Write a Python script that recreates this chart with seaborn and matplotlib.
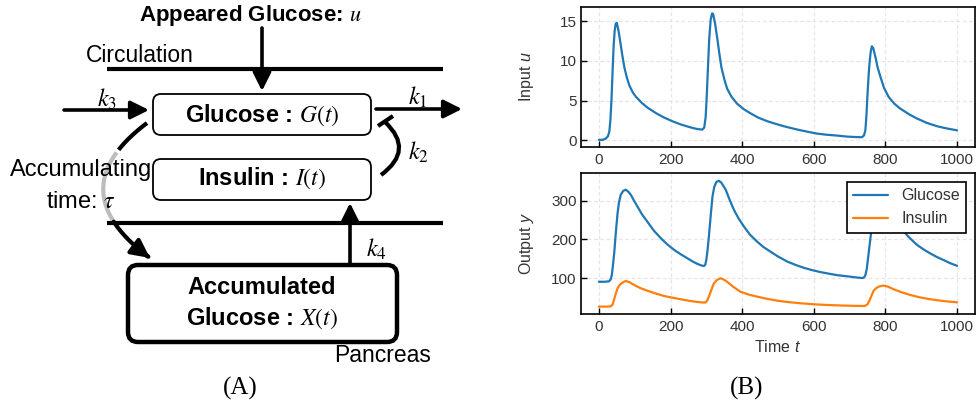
import numpy as np
import matplotlib
matplotlib.use('Agg')
import matplotlib.pyplot as plt
import seaborn as sns
from matplotlib.patches import FancyBboxPatch, FancyArrowPatch, PathPatch
from matplotlib.path import Path

# ---------------- data ----------------
t_u = [0, 10, 19, 25, 29, 32, 35, 38, 41, 44, 47, 50, 54, 59, 65, 71, 78, 85, 95, 103,
       120, 136, 160, 182, 205, 228, 250, 266, 280, 289, 294, 298, 301, 304.5, 308, 312,
       316, 319, 324, 330, 336, 342, 350, 358, 370, 386, 405, 423, 445, 470, 495, 516,
       540, 563, 585, 609, 635, 665, 693, 720, 734, 740, 744, 747, 750, 753, 756, 759,
       762, 766, 772, 778, 786, 796, 809, 825, 841, 865, 888, 915, 944, 970, 1000]
u_vals = [0.05, 0.05, 0.2, 0.5, 1.05, 2.5, 5.0, 8.5, 11.8, 13.8, 14.7, 14.8, 14.0, 12.6,
          10.8, 9.2, 7.9, 6.9, 6.0, 5.5, 4.7, 4.1, 3.4, 2.86, 2.4, 2.0, 1.7, 1.5, 1.38,
          1.35, 1.6, 2.9, 5.5, 9.2, 12.8, 15.2, 16.0, 15.9, 14.8, 13.0, 11.0, 9.2, 7.7,
          6.5, 5.5, 4.6, 3.9, 3.4, 2.85, 2.4, 2.05, 1.77, 1.5, 1.26, 1.05, 0.84, 0.7,
          0.59, 0.46, 0.4, 0.38, 0.6, 1.26, 3.2, 5.9, 8.2, 10.0, 11.2, 11.85, 11.6, 10.5,
          9.2, 8.0, 6.6, 5.46, 4.6, 4.0, 3.3, 2.74, 2.2, 1.77, 1.5, 1.25]

t_g = [0, 15, 28, 33, 36, 40, 43, 47, 52, 56, 61, 68, 75, 82, 89, 98, 108, 120, 135, 153,
       173, 190, 210, 228, 247, 262, 275, 286, 293, 297, 300, 303, 307, 312, 317, 322,
       328, 335, 342, 354, 365, 377, 390, 405, 422, 442, 460, 479, 500, 526, 550, 572,
       595, 618, 641, 665, 693, 715, 735, 740, 744, 748, 753, 757, 760, 764, 770, 778,
       787, 796, 808, 820, 835, 848, 860, 874, 888, 905, 925, 943, 962, 980, 1000]
g_vals = [91, 91, 92, 97, 108, 140, 168, 215, 267, 295, 315, 325, 328, 323, 315, 300, 284,
          265, 246, 223, 203, 188, 173, 162, 151.5, 143, 137, 133, 131.5, 135, 148, 170,
          207, 260, 310, 335, 348, 351, 346, 328, 302, 276, 254, 233, 212, 194, 180,
          168.5, 156, 143, 134, 127, 121, 116, 112, 108, 105, 102.5, 100.5, 102, 108, 125,
          164, 195, 218, 245, 275, 297, 306, 303, 290, 272, 250, 230, 211, 198, 186, 175,
          164, 155, 147, 139, 132]

t_i = [0, 20, 33, 38, 42, 47, 52, 58, 66, 75, 85, 98, 115, 135, 158, 182, 205, 228, 252,
       275, 292, 298, 303, 307, 313, 321, 330, 340, 348, 358, 375, 395, 418, 442, 470,
       498, 530, 563, 600, 637, 680, 720, 742, 750, 755, 761, 767, 774, 781, 790, 797,
       808, 823, 845, 869, 895, 925, 960, 1000]
i_vals = [27, 27, 27.5, 32, 44, 60, 74, 83, 89, 93, 90, 83, 75, 68, 61, 54.4, 50, 46, 42,
          39, 37.5, 37.7, 44, 52.6, 68, 87, 96, 100, 97, 91, 78, 65.5, 58, 52.6, 47, 42.3,
          38.5, 35.6, 33, 31.2, 29.8, 28.8, 28.6, 33, 42, 55, 68, 74.5, 78.3, 80.5, 81, 78,
          71.6, 64, 57, 51, 46, 41.5, 38]

x_ticks = [0, 200, 400, 600, 800, 1000]
u_ticks = [0, 5, 10, 15]
y_ticks = [100, 200, 300]
series_labels = ['Glucose', 'Insulin']

# ---------------- style ----------------
sns.set_theme(style='ticks')
plt.rcParams['font.family'] = ['Liberation Sans', 'DejaVu Sans']
plt.rcParams['text.color'] = 'black'
plt.rcParams['mathtext.fontset'] = 'custom'
plt.rcParams['mathtext.rm'] = 'Liberation Sans'
plt.rcParams['mathtext.it'] = 'Liberation Sans:italic'
plt.rcParams['mathtext.bf'] = 'Liberation Sans:bold'

BLUE = '#1f77b4'
ORANGE = '#ff7f0e'
TXT = '#333333'

W, H = 977, 408
fig = plt.figure(figsize=(W / 100, H / 100), dpi=100)

# ---------------- diagram (A) ----------------
d = fig.add_axes([0, 0, 1, 1])
d.set_xlim(0, W)
d.set_ylim(H, 0)
d.set_axis_off()

def box(x0, y0, x1, y1, lw, r):
    p = FancyBboxPatch((x0, y0), x1 - x0, y1 - y0,
                       boxstyle=f'round,pad=0,rounding_size={r}',
                       fc='white', ec='black', lw=lw, zorder=3)
    d.add_patch(p)

def arrow(p0, p1, lw=2.6):
    a = FancyArrowPatch(p0, p1, arrowstyle='-|>,head_length=11,head_width=5.5',
                        mutation_scale=1, lw=lw, color='black',
                        shrinkA=0, shrinkB=0, zorder=4)
    d.add_patch(a)

# circulation lines
d.plot([107, 443], [69, 69], color='black', lw=3, solid_capstyle='butt')
d.plot([107, 443], [223, 223], color='black', lw=3, solid_capstyle='butt')

box(153, 94, 371, 135, 1.3, 8)
box(153, 159, 371, 200, 1.3, 8)
box(128, 265, 397, 342, 3.2, 10)

arrow((262, 28), (262, 91))
arrow((64, 110), (149, 110))
arrow((376, 109), (462, 109))
arrow((350, 265), (350, 203))

# k2 inhibition arc
k2 = Path([(381, 175), (415, 150), (385, 122)], [Path.MOVETO, Path.CURVE3, Path.CURVE3])
d.add_patch(PathPatch(k2, fill=False, lw=3, ec='black', capstyle='butt'))
d.plot([378, 393], [126, 116], color='black', lw=3, solid_capstyle='butt')

# accumulating time arc
P0 = np.array([147, 123.0]); C = np.array([58, 190.0]); P2 = np.array([150, 258.0])
def bez(s0, s1, n=30):
    s = np.linspace(s0, s1, n)[:, None]
    return (1 - s) ** 2 * P0 + 2 * (1 - s) * s * C + s ** 2 * P2
seg1 = bez(0, 0.2)
seg2 = bez(0.22, 0.72)
seg3 = bez(0.73, 1.0)
d.plot(seg1[:, 0], seg1[:, 1], color='black', lw=3, solid_capstyle='butt')
d.plot(seg2[:, 0], seg2[:, 1], color='#bdbdbd', lw=3, solid_capstyle='butt')
d.add_patch(FancyArrowPatch(path=Path(seg3), arrowstyle='-|>,head_length=11,head_width=5.5',
                            mutation_scale=1, lw=3, color='black'))

# texts
d.text(250, 21, r'Appeared Glucose: $u$', ha='center', va='baseline', fontsize=16,
       fontweight='bold', math_fontfamily='stix')
d.text(140, 55, 'Circulation', ha='center', va='center', fontsize=16.5)
d.text(262, 115, r'Glucose : $G(t)$', ha='center', va='center', fontsize=17,
       fontweight='bold', math_fontfamily='stix', zorder=5)
d.text(262, 178, r'Insulin : $I(t)$', ha='center', va='center', fontsize=17,
       fontweight='bold', math_fontfamily='stix', zorder=5)
d.text(262, 287, 'Accumulated', ha='center', va='center', fontsize=17,
       fontweight='bold', zorder=5)
d.text(262, 318, r'Glucose : $X(t)$', ha='center', va='center', fontsize=17,
       fontweight='bold', math_fontfamily='stix', zorder=5)
for lab, (x, y) in {r'$k_3$': (107, 99), r'$k_1$': (418, 97),
                    r'$k_2$': (418, 152), r'$k_4$': (376, 249)}.items():
    d.text(x, y, lab, ha='center', va='center', fontsize=17.5, math_fontfamily='stix')
d.text(81, 170, 'Accumulating', ha='center', va='center', fontsize=17)
d.text(81, 202, r'time: $\tau$', ha='center', va='center', fontsize=17,
       math_fontfamily='stix')
d.text(383, 355, 'Pancreas', ha='center', va='center', fontsize=16.5)
d.text(240, 388, '(A)', ha='center', va='center', fontsize=18,
       family=['Liberation Serif', 'DejaVu Serif'])
d.text(747, 388, '(B)', ha='center', va='center', fontsize=18,
       family=['Liberation Serif', 'DejaVu Serif'])

# ---------------- plots (B) ----------------
ax1 = fig.add_axes([581 / W, 1 - 147 / H, 394 / W, 140 / H])
ax2 = fig.add_axes([581 / W, 1 - 314 / H, 394 / W, 141 / H])

sns.lineplot(x=t_u, y=u_vals, ax=ax1, color=BLUE, lw=1.6)
sns.lineplot(x=t_g, y=g_vals, ax=ax2, color=BLUE, lw=1.6, label=series_labels[0])
sns.lineplot(x=t_i, y=i_vals, ax=ax2, color=ORANGE, lw=1.6, label=series_labels[1])

for ax in (ax1, ax2):
    ax.set_xlim(-50, 1050)
    ax.set_xticks(x_ticks)
    ax.grid(True, color='#e6e6e6', ls=(0, (3, 2)), lw=0.9)
    ax.tick_params(direction='in', length=4, width=1, colors='black',
                   labelcolor=TXT, labelsize=11, pad=4)
    ax.tick_params(axis='y', pad=3)
    for s in ax.spines.values():
        s.set_color('black')
        s.set_linewidth(1.2)
    ax.set_facecolor('white')

ax1.set_ylim(-0.85, 16.8)
ax1.set_yticks(u_ticks)
ax2.set_ylim(8, 371)
ax2.set_yticks(y_ticks)

ax1.set_ylabel(r'Input $u$', fontsize=11.5, color=TXT)
ax2.set_ylabel(r'Output $y$', fontsize=11.5, color=TXT)
ax2.set_xlabel(r'Time $t$', fontsize=11.5, color=TXT)
ax1.yaxis.set_label_coords(-0.115, 0.5)
ax2.yaxis.set_label_coords(-0.115, 0.5)

leg = ax2.legend(loc='upper right', frameon=True, fancybox=False, edgecolor='black',
                 framealpha=1, fontsize=11.5, borderaxespad=0.55, handlelength=2.2)
leg.get_frame().set_linewidth(1.2)
for t in leg.get_texts():
    t.set_color(TXT)

fig.savefig('out.png', dpi=100)
